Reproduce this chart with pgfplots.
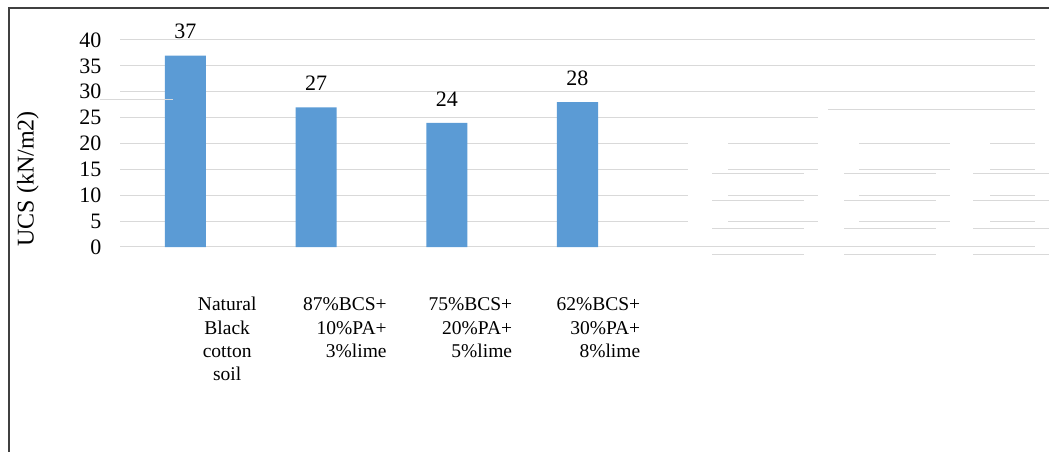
\documentclass[border=0pt]{standalone}
\usepackage{pgfplots}
\pgfplotsset{compat=1.18}
\usepackage{fontspec}
\setmainfont{Liberation Serif}

\definecolor{barblue}{HTML}{5B9BD5}
\definecolor{gridgray}{HTML}{D9D9D9}
\definecolor{framegray}{HTML}{404040}

\begin{document}
\begin{tikzpicture}[x=1pt,y=1pt]
  % page extent
  \useasboundingbox (-120,-205) rectangle (929,247);
  % chart frame (left and top edges)
  \draw[framegray, line width=1.3pt] (-111,-205) -- (-111,239) -- (929,239);
  % horizontal grid (one unit = 5.175pt)
  \begin{scope}[gridgray, line width=1pt]
    \foreach \v in {0,30,35,40} \draw (0,5.175*\v) -- (915,5.175*\v);
    \draw (0,129.4) -- (478,129.4);
    \draw[line width=1.6pt] (478,129.4) -- (698,129.4);
    \draw (708,137) -- (915,137);
    \foreach \v in {5,10,15,20} {
      \draw (0,5.175*\v) -- (568,5.175*\v);
      \draw (608,5.175*\v) -- (698,5.175*\v);
      \draw (739,5.175*\v) -- (830,5.175*\v);
      \draw (870,5.175*\v) -- (915,5.175*\v);
    }
    \foreach \y in {73,46,18,-8} {
      \draw (592,\y) -- (684,\y);
      \draw (724,\y) -- (816,\y);
      \draw (853,\y) -- (929,\y);
    }
  \end{scope}
  \begin{axis}[
    at={(0,0)}, anchor=south west,
    scale only axis,
    width=915pt, height=207pt,
    xmin=-0.5, xmax=6.5,
    ymin=0, ymax=40,
    ytick={0,5,...,40},
    axis line style={draw=none},
    major tick length=0pt,
    xtick={0.32,1.22,2.18,3.16},
    xticklabels={
      {\begin{tabular}{@{}c@{}}Natural\\Black\\cotton\\soil\end{tabular}},
      {\begin{tabular}{@{}r@{}}87\%BCS+\\10\%PA+\\3\%lime\end{tabular}},
      {\begin{tabular}{@{}r@{}}75\%BCS+\\20\%PA+\\5\%lime\end{tabular}},
      {\begin{tabular}{@{}r@{}}62\%BCS+\\30\%PA+\\8\%lime\end{tabular}}
    },
    xticklabel style={font=\fontsize{19.5}{23.3}\selectfont, anchor=north, yshift=-44pt},
    yticklabel style={font=\fontsize{22}{25}\selectfont, xshift=-15pt},
    /pgf/number format/assume math mode=true,
    ylabel={UCS (kN/m2)},
    ylabel style={font=\fontsize{24}{28}\selectfont, at={(axis description cs:-0.085,0.33)}, anchor=south},
    nodes near coords,
    nodes near coords style={font=\fontsize{22}{25}\selectfont, yshift=13pt},
    point meta=explicit symbolic,
  ]
    \addplot[ybar, bar width=41pt, fill=barblue, draw=none]
      coordinates {(0,37)[37] (1,27)[27] (2,24)[24] (3,28)[28]};
  \end{axis}
  % stray short rule across the first bar
  \draw[gridgray, line width=1pt] (-20,147) -- (53,147);
\end{tikzpicture}
\end{document}
